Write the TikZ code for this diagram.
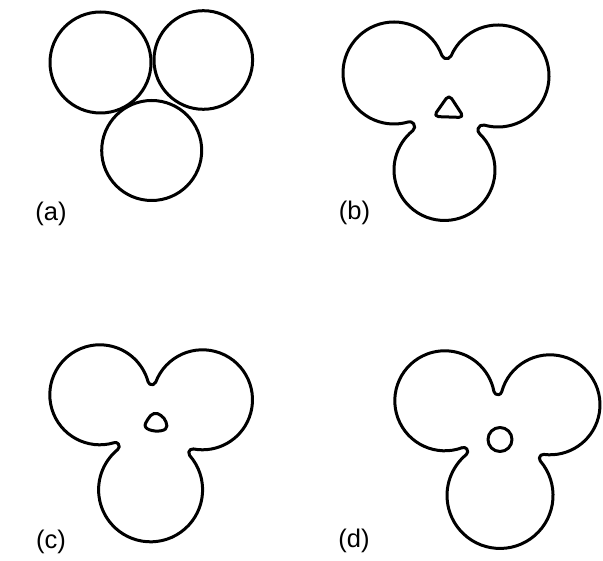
\documentclass[tikz,border=0pt]{standalone}
\usepackage{fontspec}
\newfontfamily\labfont{Liberation Sans}
\tikzset{
  outline/.style={draw=black,line width=3pt,line join=round},
  lab/.style={font=\labfont\fontsize{25.5}{30}\selectfont,inner sep=0pt,anchor=center}
}
% fillet centre between lobe P (radius rp) and lobe Q (radius rq)
\newcommand\TFcalc[6]{%
  \pgfmathsetmacro\TFL{veclen(#4-#1,#5-#2)}%
  \pgfmathsetmacro\TFux{(#4-#1)/\TFL}%
  \pgfmathsetmacro\TFuy{(#5-#2)/\TFL}%
  \pgfmathsetmacro\TFa{\TFL/2+((#3+\trho)^2-(#6+\trho)^2)/(2*\TFL)}%
  \pgfmathsetmacro\TFh{sqrt(max((#3+\trho)^2-\TFa^2,0))}%
  \pgfmathsetmacro\TFx{#1+\TFa*\TFux-\TFh*\TFuy}%
  \pgfmathsetmacro\TFy{#2+\TFa*\TFuy+\TFh*\TFux}%
}
\newcommand\cwnorm[2]{\pgfmathsetmacro#2{#1-mod(#1-#2+720,360)}}
\newcommand\ccwnorm[2]{\pgfmathsetmacro#2{#1+mod(#2-#1+720,360)}}
% \trefoil(Ax,Ay,RA)(Bx,By,RB)(Cx,Cy,RC) in pixel coordinates (y downwards)
\def\trefoil(#1,#2,#3)(#4,#5,#6)(#7,#8,#9){%
  \pgfmathsetmacro\TAx{#1}\pgfmathsetmacro\TAy{-(#2)}\pgfmathsetmacro\TAr{#3}%
  \pgfmathsetmacro\TBx{#4}\pgfmathsetmacro\TBy{-(#5)}\pgfmathsetmacro\TBr{#6}%
  \pgfmathsetmacro\TCx{#7}\pgfmathsetmacro\TCy{-(#8)}\pgfmathsetmacro\TCr{#9}%
  \TFcalc{\TAx}{\TAy}{\TAr}{\TBx}{\TBy}{\TBr}\let\FABx\TFx\let\FABy\TFy
  \TFcalc{\TBx}{\TBy}{\TBr}{\TCx}{\TCy}{\TCr}\let\FBCx\TFx\let\FBCy\TFy
  \TFcalc{\TCx}{\TCy}{\TCr}{\TAx}{\TAy}{\TAr}\let\FCAx\TFx\let\FCAy\TFy
  \pgfmathsetmacro\aAs{atan2(\FCAy-\TAy,\FCAx-\TAx)}%
  \pgfmathsetmacro\aAe{atan2(\FABy-\TAy,\FABx-\TAx)}\cwnorm{\aAs}{\aAe}%
  \pgfmathsetmacro\fABs{\aAe+180}%
  \pgfmathsetmacro\fABe{atan2(\TBy-\FABy,\TBx-\FABx)}\ccwnorm{\fABs}{\fABe}%
  \pgfmathsetmacro\aBs{\fABe+180}%
  \pgfmathsetmacro\aBe{atan2(\FBCy-\TBy,\FBCx-\TBx)}\cwnorm{\aBs}{\aBe}%
  \pgfmathsetmacro\fBCs{\aBe+180}%
  \pgfmathsetmacro\fBCe{atan2(\TCy-\FBCy,\TCx-\FBCx)}\ccwnorm{\fBCs}{\fBCe}%
  \pgfmathsetmacro\aCs{\fBCe+180}%
  \pgfmathsetmacro\aCe{atan2(\FCAy-\TCy,\FCAx-\TCx)}\cwnorm{\aCs}{\aCe}%
  \pgfmathsetmacro\fCAs{\aCe+180}%
  \pgfmathsetmacro\fCAe{atan2(\TAy-\FCAy,\TAx-\FCAx)}\ccwnorm{\fCAs}{\fCAe}%
  \pgfmathsetmacro\Sx{\TAx+\TAr*cos(\aAs)}\pgfmathsetmacro\Sy{\TAy+\TAr*sin(\aAs)}%
  \draw[outline] (\Sx,\Sy)
    arc[start angle=\aAs,end angle=\aAe,radius=\TAr pt]
    arc[start angle=\fABs,end angle=\fABe,radius=\trho pt]
    arc[start angle=\aBs,end angle=\aBe,radius=\TBr pt]
    arc[start angle=\fBCs,end angle=\fBCe,radius=\trho pt]
    arc[start angle=\aCs,end angle=\aCe,radius=\TCr pt]
    arc[start angle=\fCAs,end angle=\fCAe,radius=\trho pt] -- cycle;
}
\begin{document}
\begin{tikzpicture}[x=1pt,y=1pt]
\fill[white] (0,0) rectangle (603,-561);
\useasboundingbox (0,0) rectangle (603,-561);
% (a) three touching particles
\draw[outline] (100.5,-62.5) circle[radius=50.5pt];
\draw[outline] (203.3,-60) circle[radius=49.3pt];
\draw[outline] (151.7,-150.5) circle[radius=50pt];
\node[lab] (la) at (51,-213.5) {(a)};
% (b)
\def\trho{5}
\trefoil(394,73,51)(498,76,51)(444.5,170,50.5)
\draw[outline,rounded corners=5pt] (449,-94.5) -- (464,-117.5) -- (433.5,-116.5) -- cycle;
\node[lab] (lb) at (354.5,-213) {(b)};
% (c)
\def\trho{4}
\trefoil(99.8,394.8,50)(202.5,399.8,50)(150.5,490,52)
\draw[outline] plot[smooth cycle,tension=0.7] coordinates {(145.5,-427) (148,-419) (154,-413.5) (161,-415.5) (166,-422) (165.5,-429) (155,-431)};
\node[lab] (lc) at (51,-542) {(c)};
% (d)
\def\trho{4}
\trefoil(444.8,400.8,50)(550,404.8,50)(500,495.5,53)
\draw[outline] (500,-439.5) circle[radius=12pt];
\node[lab] (ld) at (354,-541) {(d)};
\end{tikzpicture}
\end{document}
